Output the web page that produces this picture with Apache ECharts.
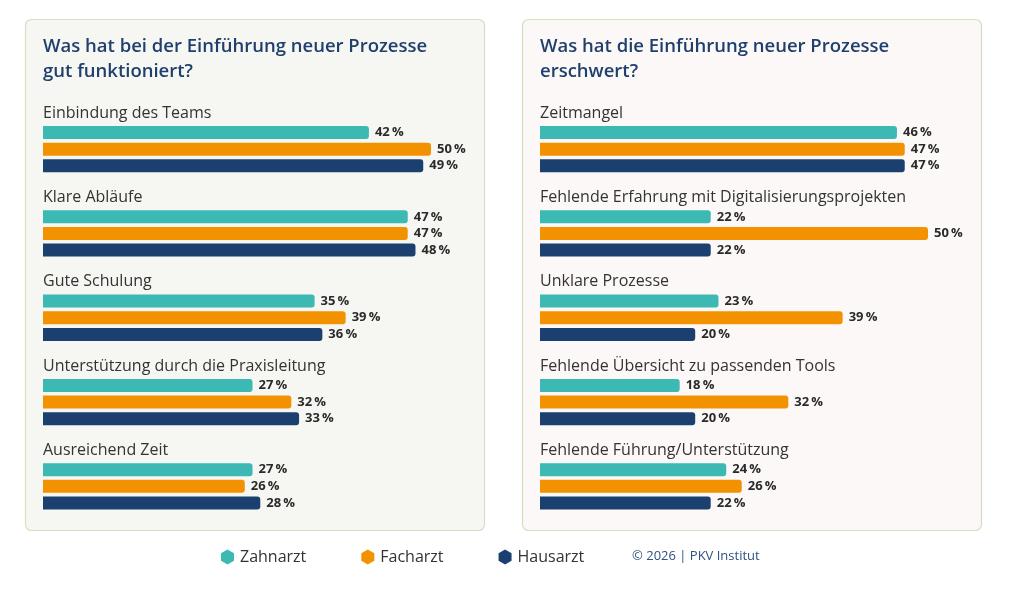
<!DOCTYPE html>
<html>
<head>
<meta charset="utf-8">
<title>Einführung neuer Prozesse</title>
<script src="https://cdn.jsdelivr.net/npm/echarts@6/dist/echarts.min.js"></script>
<style>
  html, body { margin: 0; padding: 0; background: #fff; }
  #chart { width: 1024px; height: 590px; }
</style>
</head>
<body>
<div id="chart"></div>
<script>
// Daten
var groups = ['Zahnarzt', 'Facharzt', 'Hausarzt'];
var colors = ['#3bb9b2', '#f39200', '#1b3f6e'];

var leftTitle = 'Was hat bei der Einführung neuer Prozesse\ngut funktioniert?';
var leftCats = ['Einbindung des Teams', 'Klare Abläufe', 'Gute Schulung',
  'Unterstützung durch die Praxisleitung', 'Ausreichend Zeit'];
var leftZahn = [42, 47, 35, 27, 27];
var leftFach = [50, 47, 39, 32, 26];
var leftHaus = [49, 48, 36, 33, 28];

var rightTitle = 'Was hat die Einführung neuer Prozesse\nerschwert?';
var rightCats = ['Zeitmangel', 'Fehlende Erfahrung mit Digitalisierungsprojekten',
  'Unklare Prozesse', 'Fehlende Übersicht zu passenden Tools', 'Fehlende Führung/Unterstützung'];
var rightZahn = [46, 22, 23, 18, 24];
var rightFach = [47, 50, 39, 32, 26];
var rightHaus = [47, 22, 20, 20, 22];

var copyright = '© 2026 | PKV Institut';

var FONT = '"Open Sans", "Noto Sans", sans-serif';
var hexagon = 'path://M50,0 L93.3,25 L93.3,75 L50,100 L6.7,75 L6.7,25 Z';

var chart = echarts.init(document.getElementById('chart'), null, { renderer: 'canvas' });

function makeSeries(data, idx, axisIdx) {
  return {
    name: groups[idx],
    type: 'bar',
    xAxisIndex: axisIdx,
    yAxisIndex: axisIdx,
    data: data,
    barWidth: 13,
    barGap: '28%',
    itemStyle: { color: colors[idx], borderRadius: [0, 3, 3, 0] },
    label: {
      show: true,
      position: 'right',
      distance: 6,
      fontFamily: FONT,
      fontSize: 13,
      fontWeight: 700,
      color: '#2a2a2a',
      formatter: function (p) { return p.value + '\u2009%'; }
    },
    emphasis: { disabled: true },
    silent: true
  };
}

function yAxisFor(cats, gi) {
  return {
    gridIndex: gi,
    type: 'category',
    inverse: true,
    data: cats,
    axisLine: { show: false },
    axisTick: { show: false },
    splitLine: { show: false },
    axisLabel: {
      inside: true,
      margin: 0,
      fontFamily: FONT,
      fontSize: 16,
      color: '#333333',
      verticalAlign: 'bottom',
      lineHeight: 20,
      padding: [0, 0, 26, 0]
    }
  };
}

function xAxisFor(gi) {
  return {
    gridIndex: gi,
    type: 'value',
    min: 0,
    max: 55,
    show: false
  };
}

var titleStyle = { fontFamily: FONT, fontSize: 18.5, fontWeight: 600, color: '#1f3f6d', lineHeight: 25 };

var option = {
  backgroundColor: '#ffffff',
  animation: false,
  textStyle: { fontFamily: FONT },
  graphic: [
    {
      type: 'rect', z: -10,
      shape: { x: 25.5, y: 19.5, width: 459, height: 511, r: 6 },
      style: { fill: '#f6f7f2', stroke: '#d6dfbd', lineWidth: 1.2 }
    },
    {
      type: 'rect', z: -10,
      shape: { x: 522.5, y: 19.5, width: 459, height: 511, r: 6 },
      style: { fill: '#fcf8f7', stroke: '#d6dfbd', lineWidth: 1.2 }
    },
    {
      type: 'text', left: 632, top: 550,
      style: { text: copyright, font: '13px ' + FONT, fill: '#2f5282' }
    }
  ],
  title: [
    { text: leftTitle, left: 43, top: 34, padding: 0, textStyle: titleStyle },
    { text: rightTitle, left: 540, top: 34, padding: 0, textStyle: titleStyle }
  ],
  legend: {
    data: groups,
    left: 216,
    top: 544,
    itemWidth: 13,
    itemHeight: 16,
    itemGap: 55,
    icon: hexagon,
    textStyle: { fontFamily: FONT, fontSize: 16, color: '#333333', padding: [0, 0, 0, 1] },
    selectedMode: false
  },
  grid: [
    { left: 43, top: 107, width: 426.8, height: 421.5 },
    { left: 540, top: 107, width: 426.8, height: 421.5 }
  ],
  xAxis: [xAxisFor(0), xAxisFor(1)],
  yAxis: [yAxisFor(leftCats, 0), yAxisFor(rightCats, 1)],
  series: [
    makeSeries(leftZahn, 0, 0),
    makeSeries(leftFach, 1, 0),
    makeSeries(leftHaus, 2, 0),
    makeSeries(rightZahn, 0, 1),
    makeSeries(rightFach, 1, 1),
    makeSeries(rightHaus, 2, 1)
  ]
};

chart.setOption(option);
</script>
</body>
</html>
